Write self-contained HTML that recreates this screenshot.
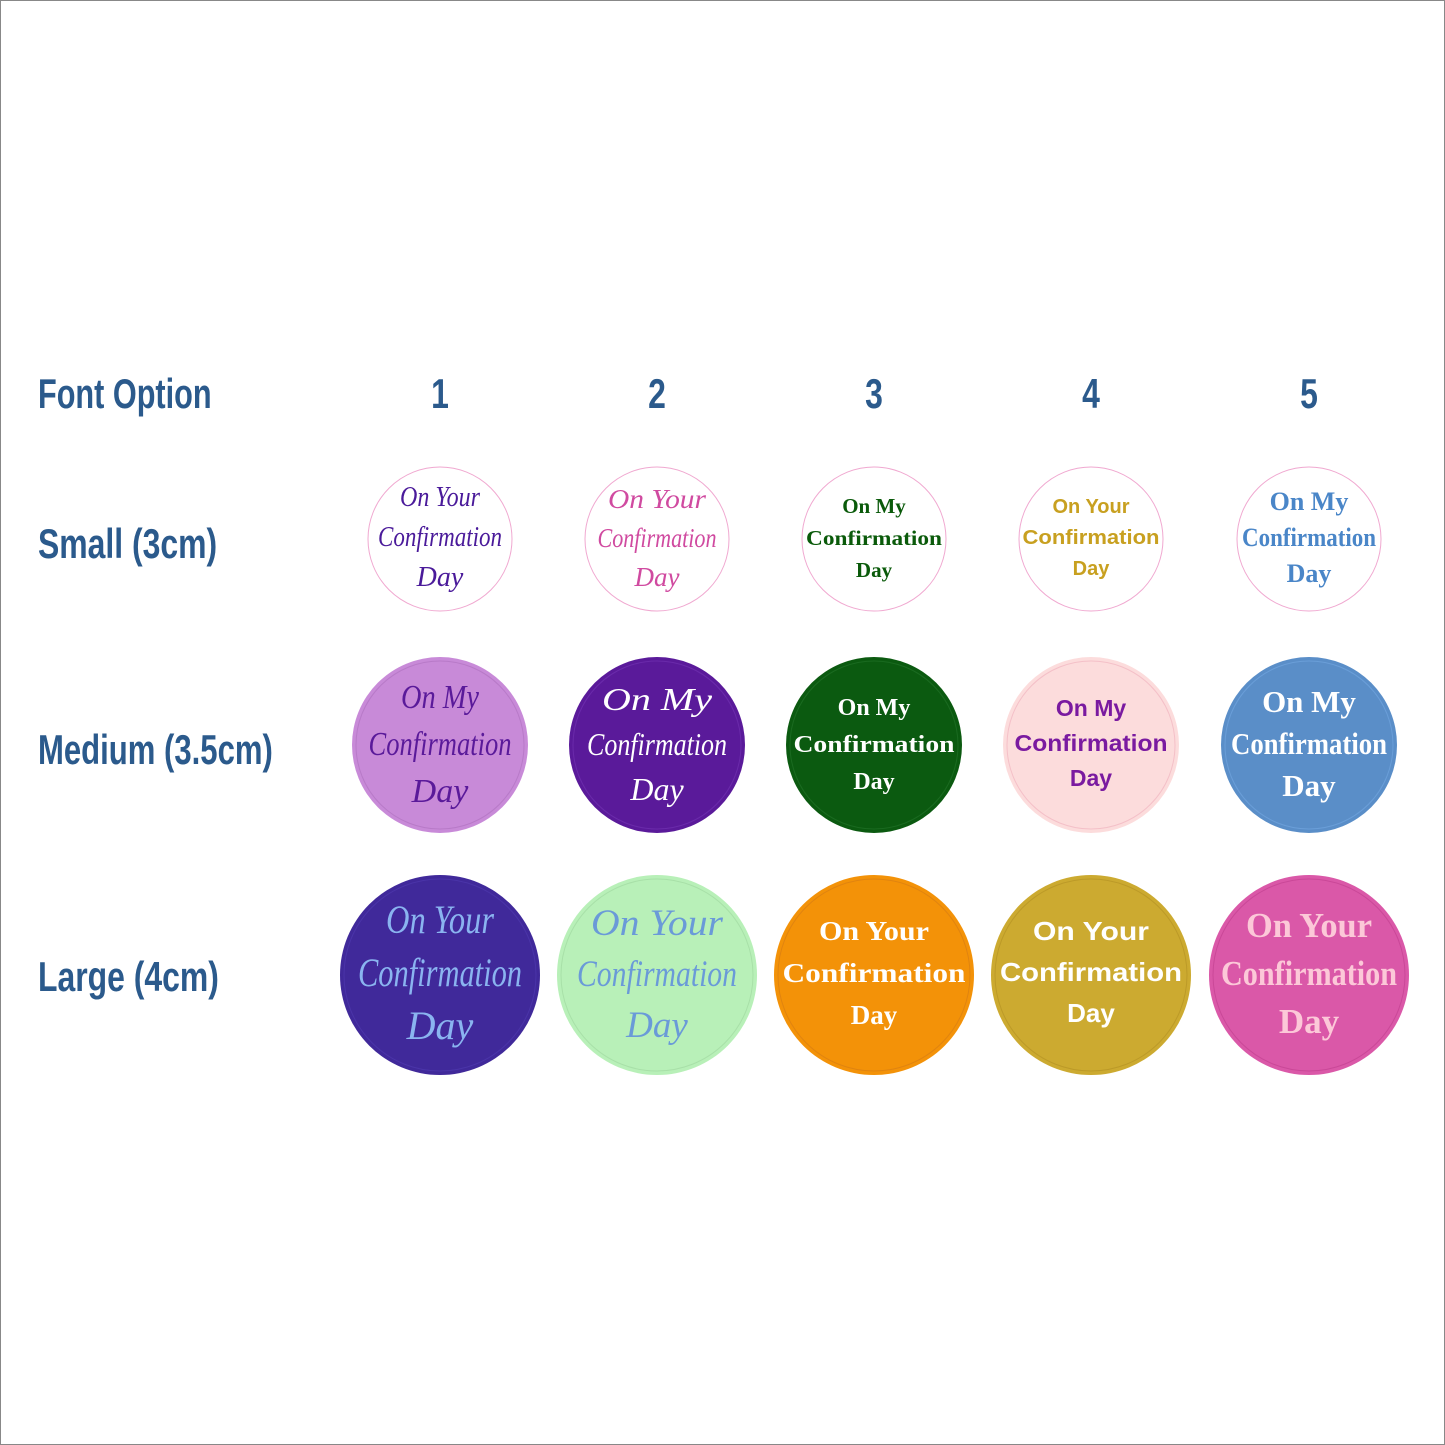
<!DOCTYPE html>
<html><head><meta charset="utf-8"><style>
html,body{margin:0;padding:0;background:#fff}
svg{display:block}
.lab{font-family:"Liberation Sans",sans-serif;font-weight:bold;fill:#2b5a8c}
</style></head><body>
<svg width="1445" height="1445" viewBox="0 0 1445 1445" xmlns="http://www.w3.org/2000/svg">
<rect x="0.5" y="0.5" width="1444" height="1444" fill="#fff" stroke="#888" stroke-width="1"/>
<g class="lab" font-size="42">
<text transform="translate(38,408) scale(0.73,1)">Font Option</text>
<text transform="translate(38,558) scale(0.76,1)">Small (3cm)</text>
<text transform="translate(38,764) scale(0.74,1)">Medium (3.5cm)</text>
<text transform="translate(38,991) scale(0.76,1)">Large (4cm)</text>
<g text-anchor="middle">
<text transform="translate(440,408) scale(0.76,1)">1</text>
<text transform="translate(657,408) scale(0.76,1)">2</text>
<text transform="translate(874,408) scale(0.76,1)">3</text>
<text transform="translate(1091,408) scale(0.76,1)">4</text>
<text transform="translate(1309,408) scale(0.76,1)">5</text>
</g></g>

<!-- Small row -->
<g fill="#fff" stroke="#f0a8d0" stroke-width="1">
<circle cx="440" cy="539" r="72"/><circle cx="657" cy="539" r="72"/><circle cx="874" cy="539" r="72"/><circle cx="1091" cy="539" r="72"/><circle cx="1309" cy="539" r="72"/>
</g>
<g text-anchor="middle">
<g font-family="Liberation Serif,serif" font-style="italic" font-size="28" fill="#4a1a9a"><text x="440" y="506" textLength="80" lengthAdjust="spacingAndGlyphs">On Your</text><text x="440" y="546" textLength="124" lengthAdjust="spacingAndGlyphs">Confirmation</text><text x="440" y="586">Day</text></g>
<g font-family="Liberation Serif,serif" font-style="italic" font-size="27" fill="#d04aa0"><text x="657" y="508" textLength="98" lengthAdjust="spacingAndGlyphs">On Your</text><text x="657" y="547" textLength="119" lengthAdjust="spacingAndGlyphs">Confirmation</text><text x="657" y="586">Day</text></g>
<g font-family="Liberation Serif,serif" font-weight="bold" font-size="21" fill="#0a5a0a"><text x="874" y="513">On My</text><text x="874" y="545" textLength="136" lengthAdjust="spacingAndGlyphs">Confirmation</text><text x="874" y="577">Day</text></g>
<g font-family="Liberation Sans,sans-serif" font-weight="bold" font-size="20" fill="#c8a020"><text x="1091" y="513">On Your</text><text x="1091" y="544" textLength="137" lengthAdjust="spacingAndGlyphs">Confirmation</text><text x="1091" y="575">Day</text></g>
<g font-family="Liberation Serif,serif" font-weight="bold" font-size="26" fill="#4a86c8"><text x="1309" y="510">On My</text><text x="1309" y="546" textLength="134" lengthAdjust="spacingAndGlyphs">Confirmation</text><text x="1309" y="582">Day</text></g>
</g>

<!-- Medium row -->
<circle cx="440" cy="745" r="88" fill="#c88ad8"/><circle cx="440" cy="745" r="84" fill="none" stroke="#b87ac8" stroke-width="1"/>
<circle cx="657" cy="745" r="88" fill="#5a1a9a"/><circle cx="657" cy="745" r="84" fill="none" stroke="#6a2aaa" stroke-width="1"/>
<circle cx="874" cy="745" r="88" fill="#0b5a10"/><circle cx="874" cy="745" r="84" fill="none" stroke="#1a6a20" stroke-width="1"/>
<circle cx="1091" cy="745" r="88" fill="#fcdcdc"/><circle cx="1091" cy="745" r="84" fill="none" stroke="#f4c0c8" stroke-width="1"/>
<circle cx="1309" cy="745" r="88" fill="#5a8ec8"/><circle cx="1309" cy="745" r="84" fill="none" stroke="#6a9ed8" stroke-width="1"/>
<g text-anchor="middle">
<g font-family="Liberation Serif,serif" font-style="italic" font-size="34" fill="#5a1a9a"><text x="440" y="708" textLength="78" lengthAdjust="spacingAndGlyphs">On My</text><text x="440" y="755" textLength="143" lengthAdjust="spacingAndGlyphs">Confirmation</text><text x="440" y="802">Day</text></g>
<g font-family="Liberation Serif,serif" font-style="italic" font-size="32" fill="#fff"><text x="657" y="710" textLength="110" lengthAdjust="spacingAndGlyphs">On My</text><text x="657" y="755" textLength="140" lengthAdjust="spacingAndGlyphs">Confirmation</text><text x="657" y="800">Day</text></g>
<g font-family="Liberation Serif,serif" font-weight="bold" font-size="24" fill="#fff"><text x="874" y="715">On My</text><text x="874" y="752" textLength="161" lengthAdjust="spacingAndGlyphs">Confirmation</text><text x="874" y="789">Day</text></g>
<g font-family="Liberation Sans,sans-serif" font-weight="bold" font-size="23" fill="#7a1aa0"><text x="1091" y="716">On My</text><text x="1091" y="751" textLength="153" lengthAdjust="spacingAndGlyphs">Confirmation</text><text x="1091" y="786">Day</text></g>
<g font-family="Liberation Serif,serif" font-weight="bold" font-size="31" fill="#fff"><text x="1309" y="712">On My</text><text x="1309" y="754" textLength="156" lengthAdjust="spacingAndGlyphs">Confirmation</text><text x="1309" y="796">Day</text></g>
</g>

<!-- Large row -->
<circle cx="440" cy="975" r="100" fill="#40299a"/><circle cx="440" cy="975" r="96" fill="none" stroke="#4a34a8" stroke-width="1"/>
<circle cx="657" cy="975" r="100" fill="#b8f0b8"/><circle cx="657" cy="975" r="96" fill="none" stroke="#a8e0a8" stroke-width="1"/>
<circle cx="874" cy="975" r="100" fill="#f39208"/><circle cx="874" cy="975" r="96" fill="none" stroke="#e08410" stroke-width="1"/>
<circle cx="1091" cy="975" r="100" fill="#ccaa30"/><circle cx="1091" cy="975" r="96" fill="none" stroke="#bc9a28" stroke-width="1"/>
<circle cx="1309" cy="975" r="100" fill="#da58a8"/><circle cx="1309" cy="975" r="96" fill="none" stroke="#ca4898" stroke-width="1"/>
<g text-anchor="middle">
<g font-family="Liberation Serif,serif" font-style="italic" font-size="40" fill="#8ab4f0"><text x="440" y="933" textLength="108" lengthAdjust="spacingAndGlyphs">On Your</text><text x="440" y="986" textLength="164" lengthAdjust="spacingAndGlyphs">Confirmation</text><text x="440" y="1039">Day</text></g>
<g font-family="Liberation Serif,serif" font-style="italic" font-size="37" fill="#6a9ad8"><text x="657" y="935" textLength="132" lengthAdjust="spacingAndGlyphs">On Your</text><text x="657" y="986" textLength="160" lengthAdjust="spacingAndGlyphs">Confirmation</text><text x="657" y="1037">Day</text></g>
<g font-family="Liberation Serif,serif" font-weight="bold" font-size="27" fill="#fff"><text x="874" y="940" textLength="110" lengthAdjust="spacingAndGlyphs">On Your</text><text x="874" y="982" textLength="183" lengthAdjust="spacingAndGlyphs">Confirmation</text><text x="874" y="1024">Day</text></g>
<g font-family="Liberation Sans,sans-serif" font-weight="bold" font-size="26" fill="#fff"><text x="1091" y="940" textLength="116" lengthAdjust="spacingAndGlyphs">On Your</text><text x="1091" y="981" textLength="182" lengthAdjust="spacingAndGlyphs">Confirmation</text><text x="1091" y="1022">Day</text></g>
<g font-family="Liberation Serif,serif" font-weight="bold" font-size="35" fill="#fcc8d8"><text x="1309" y="937" textLength="126" lengthAdjust="spacingAndGlyphs">On Your</text><text x="1309" y="985" textLength="176" lengthAdjust="spacingAndGlyphs">Confirmation</text><text x="1309" y="1033">Day</text></g>
</g>
</svg>
</body></html>
